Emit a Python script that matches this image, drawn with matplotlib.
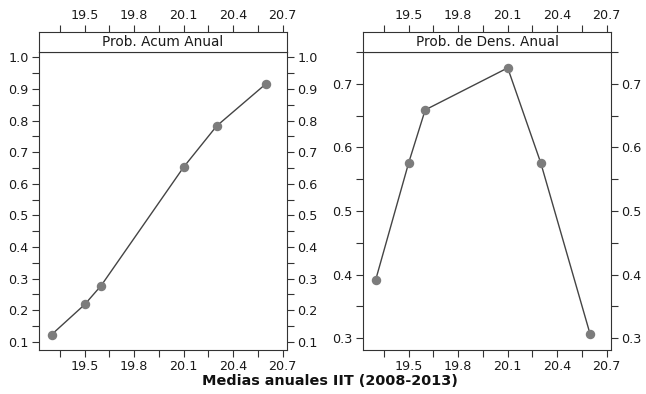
import matplotlib
matplotlib.use("Agg")
import matplotlib.pyplot as plt
from matplotlib.ticker import MultipleLocator, FixedLocator

# Annual means and their probabilities
medias = [19.3, 19.5, 19.6, 20.1, 20.3, 20.6]
prob_acum = [0.123, 0.218, 0.278, 0.653, 0.783, 0.917]
prob_dens = [0.392, 0.576, 0.659, 0.725, 0.576, 0.306]
strip_titles = ["Prob. Acum Anual", "Prob. de Dens. Anual"]
x_ticks = [19.5, 19.8, 20.1, 20.4, 20.7]
x_minor = [19.35, 19.65, 19.95, 20.25, 20.55]
x_label = "Medias anuales IIT (2008-2013)"

W, H = 646, 394
fig = plt.figure(figsize=(W / 100, H / 100), dpi=100)

txt_color = "#1a1a1a"
edge = "#333333"
fs = 9.2

def px_rect(x0, y0, x1, y1):
    return [x0 / W, 1 - y1 / H, (x1 - x0) / W, (y1 - y0) / H]

panels = [
    dict(box=(39, 287), y=prob_acum, ylim=(0.074, 1.017),
         yticks=[round(0.1 * i, 1) for i in range(1, 11)]),
    dict(box=(363, 611), y=prob_dens, ylim=(0.2816, 0.750),
         yticks=[0.3, 0.4, 0.5, 0.6, 0.7]),
]

xlim = (19.223, 20.726)
for p, title in zip(panels, strip_titles):
    x0, x1 = p["box"]
    ax = fig.add_axes(px_rect(x0, 52, x1, 350))
    ax.plot(medias, p["y"], color="#444444", lw=1.0, marker="o",
            markersize=5.8, markerfacecolor="#7c7c7c", markeredgecolor="#7c7c7c",
            zorder=3)
    ax.set_xlim(*xlim)
    ax.set_ylim(*p["ylim"])
    ax.xaxis.set_major_locator(FixedLocator(x_ticks))
    ax.xaxis.set_minor_locator(FixedLocator(x_minor))
    ax.set_xticklabels([f"{v:.1f}" for v in x_ticks])
    ax.yaxis.set_major_locator(FixedLocator(p["yticks"]))
    ax.yaxis.set_minor_locator(MultipleLocator(0.05))
    ax.set_yticklabels([f"{v:.1f}" for v in p["yticks"]])
    ax.tick_params(axis="both", which="both", direction="out", colors=edge,
                   labelcolor=txt_color, labelsize=fs, width=0.8)
    ax.tick_params(axis="both", which="major", length=5, pad=2.5)
    ax.tick_params(axis="both", which="minor", length=5)
    ax.tick_params(axis="y", which="both", left=True, right=True,
                   labelleft=True, labelright=True)
    ax.tick_params(axis="x", which="both", top=False, bottom=True)
    for s in ax.spines.values():
        s.set_color(edge)
        s.set_linewidth(0.8)

    # strip with panel title and top ticks
    st = fig.add_axes(px_rect(x0, 32, x1, 52))
    st.set_xlim(*xlim)
    st.set_ylim(0, 1)
    st.set_yticks([])
    st.xaxis.set_major_locator(FixedLocator(x_ticks))
    st.xaxis.set_minor_locator(FixedLocator(x_minor))
    st.set_xticklabels([f"{v:.1f}" for v in x_ticks])
    st.tick_params(axis="x", which="both", direction="out", top=True,
                   bottom=False, labeltop=True, labelbottom=False, colors=edge,
                   labelcolor=txt_color, labelsize=fs, width=0.8, length=5)
    st.tick_params(axis="x", which="major", pad=2)
    for s in st.spines.values():
        s.set_color(edge)
        s.set_linewidth(0.8)
    st.text(0.5, 0.48, title, ha="center", va="center", fontsize=9.8,
            color=txt_color, transform=st.transAxes)

fig.text(330 / W, 1 - 381 / H, x_label, ha="center", va="center",
         fontsize=10.4, fontweight="bold", color="#111111")

fig.savefig("out.png", dpi=100)
